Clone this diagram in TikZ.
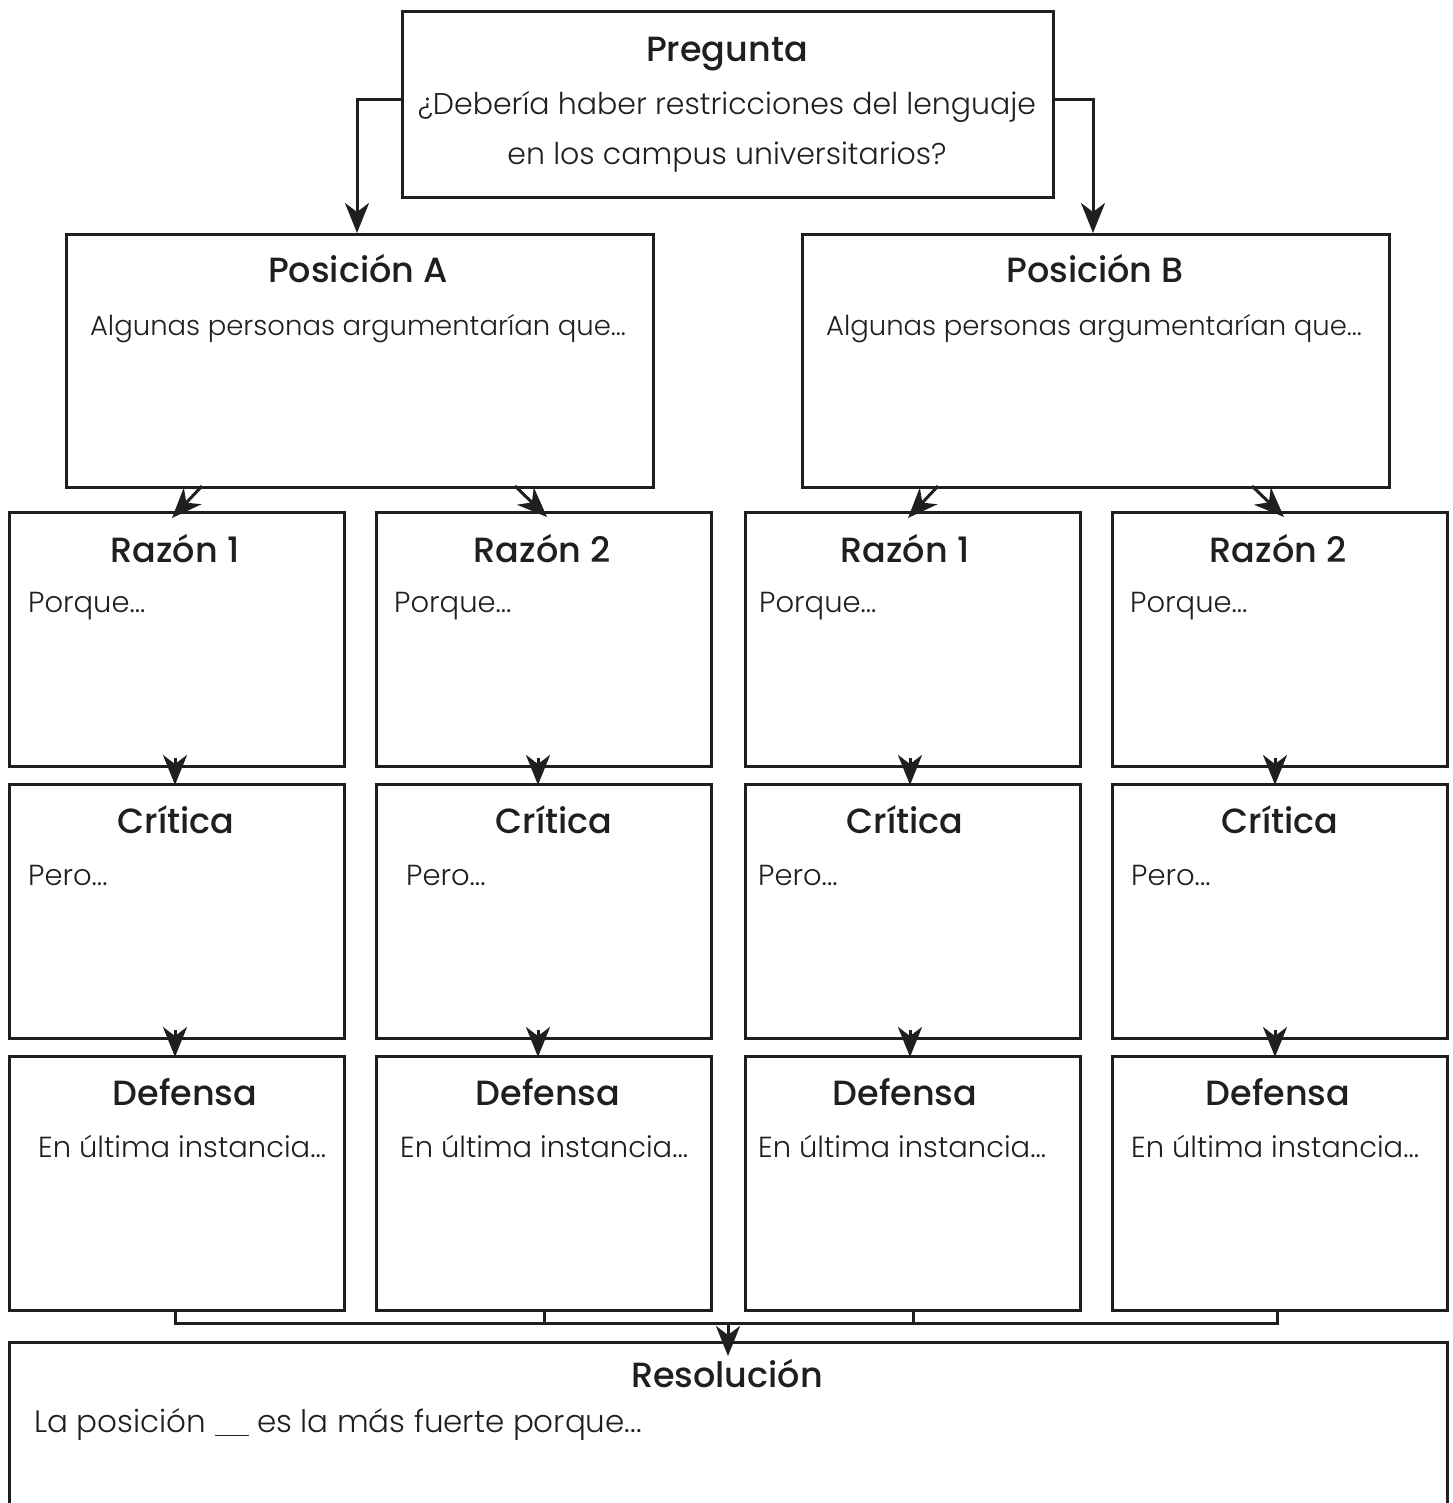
\documentclass[tikz,border=0pt]{standalone}
\usepackage{fontspec}
\usetikzlibrary{arrows.meta}
\IfFontExistsTF{Poppins Light}{\setmainfont{Poppins Light}[BoldFont={Poppins Medium}]}{\setmainfont{Poppins}}
\newcommand{\ttl}{\fontsize{35}{40}\selectfont\bfseries}
\newcommand{\bdy}{\fontsize{29}{50}\selectfont}
\newcommand{\bdys}{\fontsize{27.5}{50}\selectfont}
\begin{document}
\begin{tikzpicture}[x=1pt,y=-1pt,
  box/.style={draw=black!88,line width=3pt,inner sep=0pt,anchor=north west},
  conn/.style={draw=black!88,line width=3pt},
  arr/.style={conn,-{Stealth[length=30pt,width=24pt,inset=9pt]}},
  title/.style={anchor=base,inner sep=0pt,font=\ttl,text=black!88},
  body/.style={anchor=base west,inner sep=0pt,font=\bdy,text=black!88},
  bodyc/.style={anchor=base,inner sep=0pt,font=\bdy,text=black!88,align=center}]
\useasboundingbox (0,0) rectangle (1452,1503);
\clip (0,0) rectangle (1452,1503);
% Pregunta
\node[box,minimum width=651pt,minimum height=186pt] (preg) at (401,10) {};
\node[title] (pregT) at (727,62) {Pregunta};
\node[bodyc,font=\fontsize{30}{50}\selectfont] (pregB1) at (727,115) {¿Debería haber restricciones del lenguaje};
\node[bodyc,font=\fontsize{30}{50}\selectfont] (pregB2) at (727,165) {en los campus universitarios?};
% Posiciones
\node[box,minimum width=587pt,minimum height=253pt] (posA) at (65,233) {};
\node[box,minimum width=587pt,minimum height=253pt] (posB) at (801,233) {};
\node[title] (posAT) at (358,283) {Posición A};
\node[title] (posBT) at (1095,283) {Posición B};
\node[bodyc,font=\bdys] (posAB) at (358,335) {Algunas personas argumentarían que...};
\node[bodyc,font=\bdys] (posBB) at (1094,335) {Algunas personas argumentarían que...};
% grid
\foreach \c/\x in {1/8,2/375,3/744,4/1111}{
  \node[box,minimum width=335pt,minimum height=254pt] (raz\c) at (\x,511) {};
  \node[box,minimum width=335pt,minimum height=254pt] (cri\c) at (\x,783) {};
  \node[box,minimum width=335pt,minimum height=254pt] (def\c) at (\x,1055) {};
}
\node[title] (raz1T) at (175,562) {Razón 1};
\node[title] (raz2T) at (542,562) {Razón 2};
\node[title] (raz3T) at (905,562) {Razón 1};
\node[title] (raz4T) at (1278,562) {Razón 2};
\node[body] (raz1B) at (28,612) {Porque...};
\node[body] (raz2B) at (394,612) {Porque...};
\node[body] (raz3B) at (759,612) {Porque...};
\node[body] (raz4B) at (1130,612) {Porque...};
\node[title] (cri1T) at (176,833) {Crítica};
\node[title] (cri2T) at (554,833) {Crítica};
\node[title] (cri3T) at (905,833) {Crítica};
\node[title] (cri4T) at (1280,833) {Crítica};
\node[body] (cri1B) at (28,885) {Pero...};
\node[body] (cri2B) at (406,885) {Pero...};
\node[body] (cri3B) at (758,885) {Pero...};
\node[body] (cri4B) at (1131,885) {Pero...};
\node[title] (def1T) at (185,1105) {Defensa};
\node[title] (def2T) at (548,1105) {Defensa};
\node[title] (def3T) at (905,1105) {Defensa};
\node[title] (def4T) at (1278,1105) {Defensa};
\node[body] (def1B) at (38,1157) {En última instancia...};
\node[body] (def2B) at (400,1157) {En última instancia...};
\node[body] (def3B) at (758,1157) {En última instancia...};
\node[body] (def4B) at (1131,1157) {En última instancia...};
% Resolucion
\node[box,minimum width=1438pt,minimum height=200pt] (res) at (8,1341) {};
\node[title] (resT) at (727,1387) {Resolución};
\node[body,font=\fontsize{31}{50}\selectfont] (resB) at (34,1432) {La posición \rule[-4pt]{34pt}{1.4pt} es la más fuerte porque...};
% connectors
\coordinate (pl) at (357,100);
\coordinate (pr) at (1093,100);
\draw[arr] (preg.west |- pl) -- (pl) -- (pl |- posA.north);
\draw[arr] (preg.east |- pr) -- (pr) -- (pr |- posB.north);
\draw[arr] (202,486) -- (172,518);
\draw[arr] (515,486) -- (547,517);
\draw[arr] (938,486) -- (908,518);
\draw[arr] (1252,486) -- (1284,517);
\foreach \c/\x in {1/175,2/538,3/910,4/1275}{
  \draw[arr] (\x,758) -- (\x,785);
  \draw[arr] (\x,1030) -- (\x,1057);
}
\coordinate (j1) at (175,1323);
\coordinate (j4) at (1277,1323);
\draw[conn] (def1.south -| j1) -- (j1) -- (j4) -- (def4.south -| j4);
\draw[conn] (def2.south) -- (def2.south |- j1);
\draw[conn] (def3.south) -- (def3.south |- j1);
\draw[arr] (728,1323) -- (728,1356);
\end{tikzpicture}
\end{document}
